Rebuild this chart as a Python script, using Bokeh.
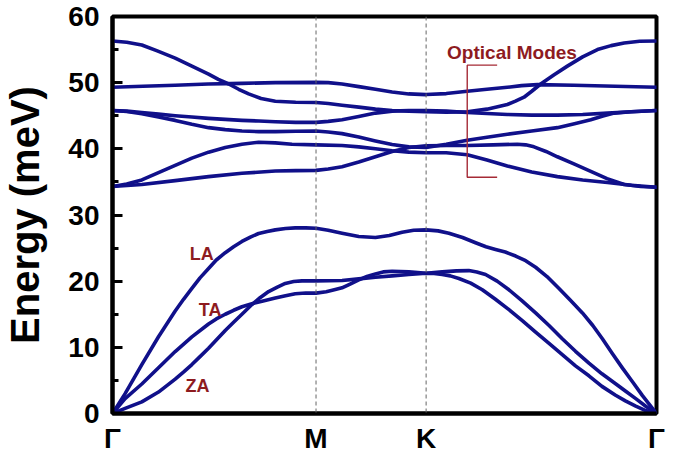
from bokeh.plotting import figure
from bokeh.models import Range1d, Span, Label, FixedTicker, SingleIntervalTicker
from bokeh.embed import file_html
from bokeh.resources import INLINE

# --- high-symmetry points (path coordinate) ---
K_G0, K_M, K_K, K_G1 = 0.0, 1.0, 1.541, 2.673
xtick_pos = [K_G0, K_M, K_K, K_G1]
xtick_lab = ["Γ", "M", "K", "Γ"]

# --- acoustic branches ---
la_k = [0, 0.062, 0.144, 0.226, 0.308, 0.35, 0.390, 0.43, 0.472, 0.51, 0.554, 0.595, 0.636,
        0.68, 0.718, 0.76, 0.8, 0.85, 0.898, 0.95, 1.0,
        1.06, 1.128, 1.21, 1.292, 1.36, 1.423, 1.48, 1.541,
        1.60, 1.653, 1.72, 1.784, 1.835, 1.882, 1.93, 1.981, 2.03, 2.079, 2.135, 2.194,
        2.25, 2.309, 2.36, 2.407, 2.455, 2.505, 2.555, 2.604, 2.673]
la_e = [0, 3.0, 7.4, 11.6, 15.5, 17.3, 18.9, 20.5, 21.9, 23.2, 24.3, 25.2, 26.0,
        26.7, 27.2, 27.5, 27.75, 27.95, 28.05, 28.05, 28.0,
        27.7, 27.25, 26.75, 26.6, 26.9, 27.4, 27.7, 27.75,
        27.6, 27.25, 26.6, 25.8, 25.2, 24.8, 24.4, 23.8, 23.1, 22.1, 20.7, 18.9,
        17.1, 15.2, 13.3, 11.3, 9.1, 6.9, 4.8, 2.7, 0]

ta_k = [0, 0.062, 0.144, 0.226, 0.308, 0.390, 0.472, 0.51, 0.554, 0.595, 0.636, 0.685,
        0.74, 0.8, 0.85, 0.898, 0.95, 1.0,
        1.05, 1.09, 1.128, 1.17, 1.210, 1.25, 1.292, 1.33, 1.374, 1.415, 1.456, 1.50, 1.541,
        1.58, 1.620, 1.69, 1.751, 1.79, 1.833, 1.89, 1.948, 2.01, 2.079, 2.145, 2.210,
        2.275, 2.341, 2.405, 2.472, 2.52, 2.571, 2.62, 2.673]
ta_e = [0, 2.25, 4.46, 6.91, 9.36, 11.57, 13.53, 14.3, 15.0, 15.6, 16.13, 16.6,
        17.0, 17.45, 17.8, 18.09, 18.2, 18.19,
        18.4, 18.7, 19.0, 19.6, 20.2, 20.7, 21.1, 21.4, 21.5, 21.45, 21.4, 21.3, 21.2,
        21.3, 21.4, 21.55, 21.6, 21.4, 21.0, 20.0, 18.7, 17.1, 15.2, 13.3, 11.3,
        9.4, 7.6, 6.0, 4.5, 3.4, 2.25, 1.1, 0]

za_k = [0, 0.062, 0.144, 0.226, 0.308, 0.35, 0.390, 0.43, 0.472, 0.51, 0.554, 0.595, 0.636,
        0.685, 0.725, 0.767, 0.81, 0.849, 0.89, 0.931, 1.0,
        1.128, 1.21, 1.292, 1.374, 1.456, 1.541,
        1.58, 1.620, 1.66, 1.702, 1.76, 1.817, 1.88, 1.948, 2.015, 2.079, 2.145, 2.210,
        2.275, 2.341, 2.405, 2.472, 2.52, 2.571, 2.62, 2.673]
za_e = [0, 0.78, 1.76, 3.24, 5.2, 6.3, 7.4, 8.6, 9.85, 11.1, 12.55, 13.8, 15.0,
        16.47, 17.5, 18.43, 19.1, 19.66, 19.95, 20.05, 20.05,
        20.1, 20.35, 20.6, 20.8, 21.0, 21.2,
        21.15, 21.0, 20.8, 20.4, 19.7, 18.7, 17.3, 15.7, 14.0, 12.3, 10.6, 8.9,
        7.2, 5.7, 4.1, 2.75, 1.9, 1.13, 0.45, 0]

# --- optical branches ---
opa_k = [0, 0.07, 0.144, 0.22, 0.308, 0.39, 0.472, 0.52, 0.571, 0.62, 0.669, 0.73, 0.8,
         0.9, 1.0, 1.06, 1.128, 1.21, 1.292, 1.374, 1.456, 1.541,
         1.64, 1.743, 1.84, 1.940, 1.98, 2.022, 2.06, 2.104, 2.17, 2.235, 2.31, 2.383,
         2.45, 2.514, 2.59, 2.673]
opa_e = [56.3, 56.1, 55.7, 54.8, 53.7, 52.5, 51.3, 50.5, 49.8, 49.0, 48.3, 47.6, 47.2,
         47.05, 47.0, 46.85, 46.6, 46.3, 46.0, 45.8, 45.7, 45.6,
         45.55, 45.6, 46.0, 46.7, 47.2, 47.8, 48.7, 49.8, 51.2, 52.5, 53.9, 55.0,
         55.6, 56.0, 56.25, 56.3]

opb_k = [0, 0.15, 0.308, 0.47, 0.636, 0.8, 1.0, 1.06, 1.128, 1.21, 1.292, 1.374, 1.456, 1.541,
         1.64, 1.743, 1.84, 1.940, 2.01, 2.088, 2.268, 2.47, 2.673]
opb_e = [49.3, 49.45, 49.6, 49.8, 49.9, 50.0, 50.05, 50.0, 49.8, 49.4, 49.0, 48.6, 48.3, 48.2,
         48.35, 48.7, 49.0, 49.3, 49.55, 49.7, 49.6, 49.45, 49.3]

opc_k = [0, 0.07, 0.144, 0.226, 0.308, 0.39, 0.472, 0.554, 0.636, 0.72, 0.8, 0.9, 1.0,
         1.06, 1.128, 1.21, 1.292, 1.374, 1.456, 1.541,
         1.64, 1.743, 1.84, 1.940, 2.06, 2.186, 2.31, 2.432, 2.55, 2.673]
opc_e = [45.8, 45.7, 45.5, 45.25, 45.0, 44.8, 44.6, 44.45, 44.3, 44.2, 44.1, 44.0, 44.0,
         44.15, 44.4, 44.9, 45.4, 45.7, 45.8, 45.8,
         45.7, 45.5, 45.35, 45.2, 45.1, 45.1, 45.2, 45.4, 45.6, 45.8]

opd_k = [0, 0.07, 0.144, 0.226, 0.308, 0.39, 0.472, 0.554, 0.636, 0.72, 0.8, 0.9, 1.0,
         1.06, 1.128, 1.21, 1.292, 1.374, 1.456, 1.541,
         1.64, 1.743, 1.84, 1.940, 2.06, 2.186, 2.27, 2.350, 2.41, 2.465, 2.547, 2.673]
opd_e = [45.8, 45.65, 45.3, 44.8, 44.3, 43.7, 43.2, 42.9, 42.7, 42.6, 42.6, 42.65, 42.7,
         42.55, 42.3, 41.8, 41.2, 40.65, 40.3, 40.2,
         40.7, 41.3, 41.75, 42.2, 42.7, 43.2, 43.8, 44.4, 44.95, 45.4, 45.6, 45.8]

ope_k = [0, 0.07, 0.144, 0.226, 0.308, 0.39, 0.472, 0.554, 0.636, 0.718, 0.8, 0.882, 1.0,
         1.128, 1.21, 1.292, 1.374, 1.456, 1.541,
         1.64, 1.743, 1.84, 1.940, 2.06, 2.186, 2.31, 2.432, 2.55, 2.673]
ope_e = [34.3, 34.7, 35.3, 36.4, 37.5, 38.6, 39.5, 40.2, 40.7, 41.0, 40.9, 40.7, 40.6,
         40.5, 40.3, 40.0, 39.7, 39.5, 39.4,
         39.4, 39.1, 38.3, 37.4, 36.5, 35.8, 35.3, 34.9, 34.5, 34.2]

opf_k = [0, 0.144, 0.308, 0.472, 0.636, 0.8, 0.9, 1.0, 1.06, 1.128, 1.21, 1.292, 1.374,
         1.456, 1.541, 1.64, 1.743, 1.87, 1.989, 2.03, 2.071, 2.13, 2.186, 2.27, 2.350,
         2.43, 2.514, 2.596, 2.673]
opf_e = [34.3, 34.6, 35.2, 35.8, 36.3, 36.65, 36.7, 36.75, 36.95, 37.3, 38.0, 38.8, 39.6,
         40.2, 40.45, 40.5, 40.5, 40.6, 40.7, 40.6, 40.3, 39.6, 38.8, 37.7, 36.6,
         35.5, 34.6, 34.3, 34.2]

branches = [(la_k, la_e), (ta_k, ta_e), (za_k, za_e),
            (opa_k, opa_e), (opb_k, opb_e), (opc_k, opc_e),
            (opd_k, opd_e), (ope_k, ope_e), (opf_k, opf_e)]

NAVY = "#10108a"
WINE = "#8e1b1f"
FONT = "Liberation Sans"

p = figure(width=667, height=456, output_backend="svg", toolbar_location=None,
           x_range=Range1d(K_G0, K_G1), y_range=Range1d(0, 60),
           min_border_left=111, min_border_right=11, min_border_top=16, min_border_bottom=10)
p.background_fill_color = "white"
p.border_fill_color = "white"
p.outline_line_color = "black"
p.outline_line_width = 4
p.xgrid.visible = False
p.ygrid.visible = False

for kx in (K_M, K_K):
    p.add_layout(Span(location=kx, dimension="height", line_color="#666666",
                      line_width=1, line_dash="4 3"))

for k, e in branches:
    p.line(k, e, line_color=NAVY, line_width=3.6, line_join="round", line_cap="round")

# bracket for optical modes
p.line([1.890, 1.743, 1.743, 1.890], [52.65, 52.65, 35.7, 35.7],
       line_color="#a52a35", line_width=1.4)

for txt, x, y in [("LA", 0.438, 24.1), ("TA", 0.48, 15.7), ("ZA", 0.418, 4.1)]:
    p.add_layout(Label(x=x, y=y, text=txt, text_align="center", text_baseline="middle",
                       text_font=FONT, text_font_style="bold", text_font_size="18px",
                       text_color=WINE))
p.add_layout(Label(x=1.963, y=54.6, text="Optical Modes", text_align="center",
                   text_baseline="alphabetic", text_font=FONT, text_font_style="bold",
                   text_font_size="19px", text_color=WINE))

# y axis
ya = p.yaxis[0]
ya.ticker = SingleIntervalTicker(interval=10, num_minor_ticks=2)
ya.axis_label = "Energy (meV)"
ya.axis_label_text_font = FONT
ya.axis_label_text_font_style = "bold"
ya.axis_label_text_font_size = "40px"
ya.axis_label_text_color = "black"
ya.axis_label_standoff = 18
ya.major_label_text_font = FONT
ya.major_label_text_font_style = "bold"
ya.major_label_text_font_size = "28px"
ya.major_label_text_color = "black"
ya.major_label_standoff = 13
ya.axis_line_color = "black"
ya.axis_line_width = 4
ya.major_tick_in = 10
ya.major_tick_out = 0
ya.major_tick_line_width = 3
ya.minor_tick_in = 6
ya.minor_tick_out = 0
ya.minor_tick_line_width = 3

# x axis
xa = p.xaxis[0]
xa.ticker = FixedTicker(ticks=xtick_pos, minor_ticks=[])
xa.major_label_overrides = {pos: lab for pos, lab in zip(xtick_pos, xtick_lab)}
xa.major_label_text_font = FONT
xa.major_label_text_font_style = "bold"
xa.major_label_text_font_size = "28px"
xa.major_label_text_color = "black"
xa.major_label_standoff = 9
xa.axis_line_color = "black"
xa.axis_line_width = 4
xa.major_tick_in = 0
xa.major_tick_out = 0
xa.minor_tick_in = 0
xa.minor_tick_out = 0

open("out.html", "w").write(file_html(p, INLINE))
